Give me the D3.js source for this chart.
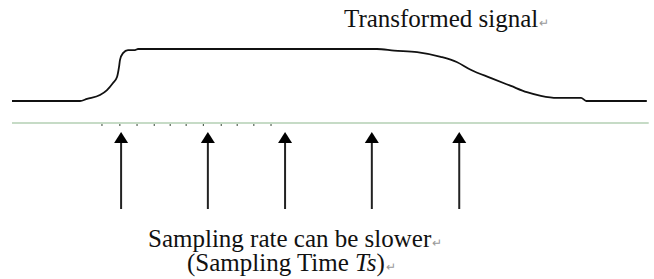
<!DOCTYPE html>
<html>
<head>
<meta charset="utf-8">
<script src="https://cdn.jsdelivr.net/npm/d3@7"></script>
<style>
  body { margin: 0; background: #fff; }
  svg { display: block; }
</style>
</head>
<body>
<svg id="chart" width="654" height="279"></svg>
<script>
// signal shape: time (0..100) and normalised amplitude (0..1)
const signalTime = [0, 10.66, 11.76, 13.79, 14.89, 15.83, 16.46, 16.77, 16.93, 17.4, 18.18, 19.28, 19.75,
                    57.2, 59.9, 63.5, 67.2, 69.7, 71.9, 75.1, 78.2, 80.7, 82.9, 85.4, 89.2, 90, 99.5];
const signalAmp = [0, 0, 0.04, 0.115, 0.21, 0.346, 0.46, 0.65, 0.79, 0.92, 0.98, 0.98, 1,
                   1, 0.97, 0.94, 0.85, 0.75, 0.6, 0.44, 0.29, 0.17, 0.1, 0.06, 0.06, 0, 0];

// slower sampling instants (arrows)
const sampleTimes = [17.1, 30.7, 42.8, 56.4, 70.1];
// fine ticks on the time axis (old fast sampling)
const fineTicks = [14.1, 16.9, 19.6, 22.3, 24.8, 27.3, 30.0, 32.8, 35.3, 37.9, 40.6];

const titleText = "Transformed signal";
const captionLines = ["Sampling rate can be slower", "(Sampling Time ", "Ts", ")"];

const svg = d3.select("#chart");

const x = d3.scaleLinear().domain([0, 100]).range([12, 650]);
const y = d3.scaleLinear().domain([0, 1]).range([101, 49]);

const axisY = 123;

// time axis (green)
svg.append("line")
    .attr("x1", x(0))
    .attr("x2", x(99.8))
    .attr("y1", axisY)
    .attr("y2", axisY)
    .attr("stroke", "#8db88d")
    .attr("stroke-width", 1.2);

svg.selectAll(".fine")
    .data(fineTicks)
    .enter()
    .append("line")
    .attr("class", "fine")
    .attr("x1", d => x(d))
    .attr("x2", d => x(d))
    .attr("y1", axisY + 1)
    .attr("y2", axisY + 3)
    .attr("stroke", "#556655")
    .attr("stroke-width", 1.2);

// signal
const line = d3.line()
    .x((d, i) => x(signalTime[i]))
    .y(d => y(d))
    .curve(d3.curveMonotoneX);

svg.append("path")
    .attr("d", line(signalAmp))
    .attr("fill", "none")
    .attr("stroke", "#111")
    .attr("stroke-width", 1.8);

// arrows
const arrows = svg.selectAll(".arrow")
    .data(sampleTimes)
    .enter()
    .append("g")
    .attr("class", "arrow")
    .attr("transform", d => `translate(${x(d)},0)`);

arrows.append("line")
    .attr("x1", 0)
    .attr("x2", 0)
    .attr("y1", 140)
    .attr("y2", 209)
    .attr("stroke", "#222")
    .attr("stroke-width", 2);

arrows.append("path")
    .attr("d", "M0,132 L7,143 L-7,143 Z")
    .attr("fill", "#000");

// texts
function label(lx, ly) {
    return svg.append("text")
        .attr("x", lx)
        .attr("y", ly)
        .style("font-family", '"Liberation Serif"')
        .style("font-size", "25px")
        .attr("fill", "#111");
}

function returnMark(textSel) {
    textSel.append("tspan")
        .attr("dx", 1)
        .style("font-size", "12px")
        .attr("fill", "#999")
        .text("↵");
}

const title = label(344, 27);
title.append("tspan").text(titleText);
returnMark(title);

const cap1 = label(148, 247);
cap1.append("tspan").text(captionLines[0]);
returnMark(cap1);

const cap2 = label(187, 271);
cap2.append("tspan").text(captionLines[1]);
cap2.append("tspan")
    .style("font-style", "italic")
    .text(captionLines[2]);
cap2.append("tspan").text(captionLines[3]);
returnMark(cap2);
</script>
</body>
</html>
